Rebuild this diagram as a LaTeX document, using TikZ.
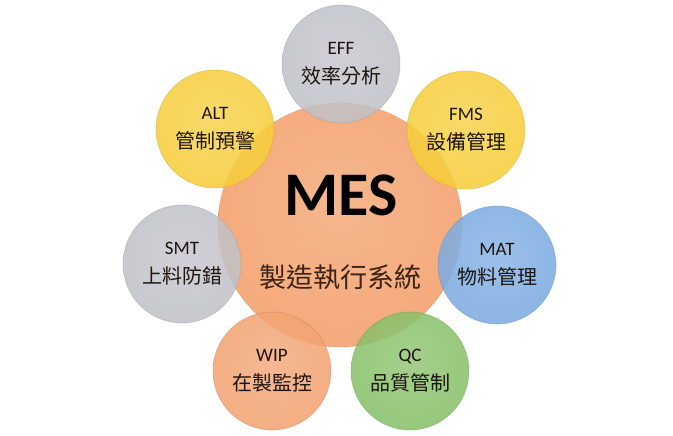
\documentclass[tikz,border=0pt]{standalone}
\usepackage{fontspec}
\setmainfont{Carlito}
\newfontfamily\cjk{Noto Sans CJK TC}
\definecolor{cOrange}{RGB}{244,166,116}
\definecolor{cWip}{RGB}{242,158,106}
\definecolor{cGray}{RGB}{190,190,198}
\definecolor{cYellow}{RGB}{247,204,50}
\definecolor{cBlue}{RGB}{118,168,226}
\definecolor{cGreen}{RGB}{130,190,98}
\definecolor{txt}{RGB}{30,20,16}
\definecolor{txtb}{RGB}{60,36,24}
\colorlet{bubin}{cGray}
\colorlet{bubout}{cGray}
\pgfdeclareradialshading[bubin,bubout]{bubble}{\pgfpoint{0bp}{5bp}}{%
  color(0bp)=(bubin!84!white); color(22bp)=(bubin!95!white); color(40bp)=(bubout); color(47bp)=(bubout!93!black); color(50bp)=(bubout!82!black)}
\tikzset{
  bub/.style={circle, minimum size=118pt, inner sep=0pt, shading=bubble,
    fill opacity=0.86, text opacity=1, draw=#1!75!black, draw opacity=0.3, line width=0.8pt,
    align=center, text=txt, font=\fontsize{19}{21}\selectfont},
}
\newcommand{\twol}[2]{#1\\[8pt]{\cjk\fontsize{20}{22}\selectfont #2}}
\begin{document}
\begin{tikzpicture}[x=1pt,y=-1pt]
\useasboundingbox[fill=white] (0,0) rectangle (673,436);
% central
\colorlet{bubin}{cOrange}\colorlet{bubout}{cOrange}
\node[bub=cOrange, minimum size=244pt, fill opacity=0.97] (mes) at (340,225) {};
\node[font=\bfseries\fontsize{62}{64}\selectfont, text=black] (mest) at (341,195) {MES};
\node[font=\cjk\fontsize{27}{30}\selectfont, text=txtb] (mesz) at (340,277) {製造執行系統};
% satellites
\colorlet{bubin}{cGray}\colorlet{bubout}{cGray}
\node[bub=cGray] (eff) at (341,64) {\twol{EFF}{效率分析}};
\colorlet{bubin}{cYellow}\colorlet{bubout}{cYellow!90!orange}
\node[bub=cYellow] (alt) at (215,129) {\twol{ALT}{管制預警}};
\node[bub=cYellow] (fms) at (466,130) {\twol{FMS}{設備管理}};
\colorlet{bubin}{cGray}\colorlet{bubout}{cGray}
\node[bub=cGray] (smt) at (182,264) {\twol{SMT}{上料防錯}};
\colorlet{bubin}{cBlue}\colorlet{bubout}{cBlue}
\node[bub=cBlue] (mat) at (497,265) {\twol{MAT}{物料管理}};
\colorlet{bubin}{cWip}\colorlet{bubout}{cWip}
\node[bub=cWip] (wip) at (272,371) {\twol{WIP}{在製監控}};
\colorlet{bubin}{cGreen}\colorlet{bubout}{cGreen}
\node[bub=cGreen] (qc) at (410,371) {\twol{QC}{品質管制}};
\end{tikzpicture}
\end{document}
